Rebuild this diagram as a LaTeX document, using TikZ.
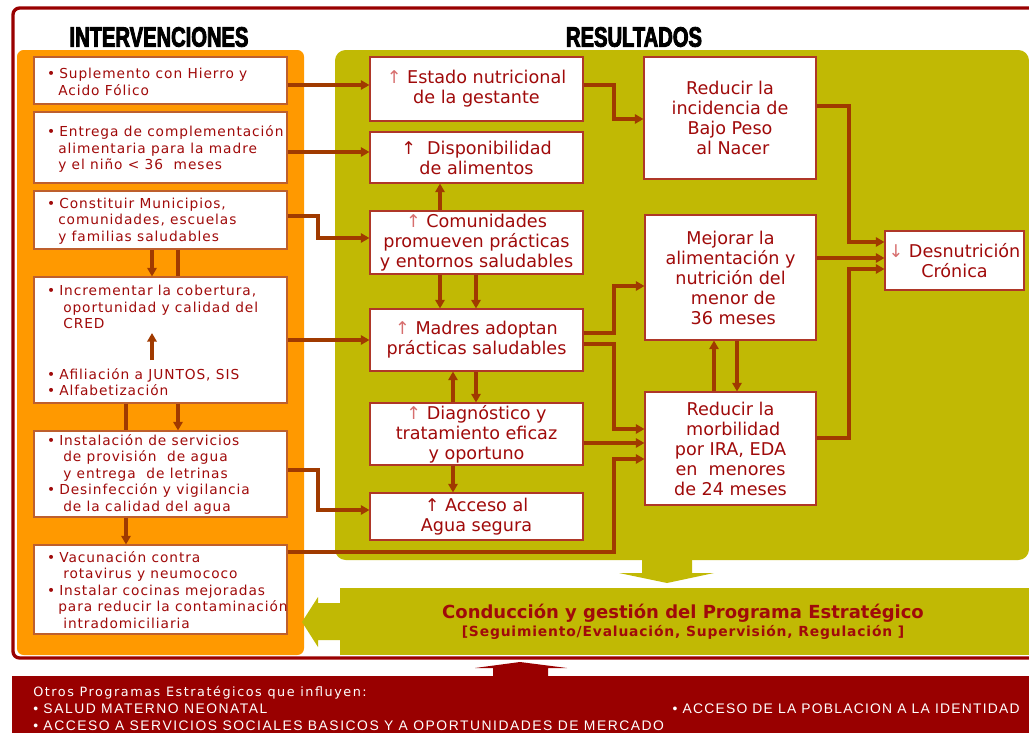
\documentclass[tikz,border=0pt]{standalone}
\usepackage{fontspec}
\setmainfont{DejaVu Sans}
\newfontfamily\titlef[FakeStretch=0.72,FakeBold=3]{Liberation Sans}
\newfontfamily\intf[LetterSpace=6.8]{DejaVu Sans}
\newfontfamily\otf[LetterSpace=12]{DejaVu Sans}
\newfontfamily\resf{DejaVu Sans}
\newfontfamily\condf{DejaVu Sans}
\newfontfamily\condg[LetterSpace=6]{DejaVu Sans}
\newfontfamily\capf[LetterSpace=11]{Liberation Sans}
\newfontfamily\capg[LetterSpace=9]{Liberation Sans}
\usetikzlibrary{arrows.meta}
\definecolor{tred}{RGB}{160,10,10}
\definecolor{pinkar}{RGB}{215,110,110}
\definecolor{conncol}{RGB}{160,58,0}
\definecolor{orng}{RGB}{255,153,0}
\definecolor{olive}{RGB}{193,185,4}
\definecolor{framecol}{RGB}{153,0,0}
\definecolor{ibord}{RGB}{190,95,45}
\definecolor{rbord}{RGB}{175,55,40}
\newcommand\bx[7]{\node[#1,minimum width={(#5-#3)*0.75pt},minimum height={(#6-#4)*0.75pt}] (#2) at ({(#3+#5)/2},{(#4+#6)/2}) {#7};}
\newcommand\Bu{\makebox[11.25pt][l]{\hspace*{2.2pt}•}}
\newcommand\Ia{\hspace*{10.5pt}}
\newcommand\Ib{\hspace*{14.25pt}}
\newcommand\pa{{\color{pinkar}↑}}
\begin{document}
\begin{tikzpicture}[x=0.75pt,y=-0.75pt,
  ibox/.style={draw=ibord,fill=white,line width=0.8pt,inner sep=0pt},
  rbox/.style={draw=rbord,fill=white,line width=0.8pt,inner sep=0pt,align=center,text=tred,
    font=\resf\fontsize{13.2pt}{15pt}\selectfont},
  itext/.style={anchor=west,align=left,inner sep=0pt,text=tred,
    font=\intf\fontsize{10.3pt}{12.4pt}\selectfont},
  conn/.style={draw=conncol,line width=2.3pt,-{Triangle[length=6.5pt,width=7pt]}},
  cline/.style={draw=conncol,line width=2.3pt},
  ttl/.style={inner sep=0pt,font=\titlef\bfseries\fontsize{21pt}{21pt}\selectfont,text=black},
  band/.style={inner sep=0pt,text=white,font=\capf\fontsize{10.4pt}{10.4pt}\selectfont}]
\useasboundingbox (0,0) rectangle (1029,733);
\clip (0,0) rectangle (1029,733);
% frame and panels
\draw[framecol,line width=2.5pt,rounded corners=5pt] (13,8) rectangle (1060,658);
\fill[orng,rounded corners=5pt] (17,50) rectangle (304,655);
\fill[olive,rounded corners=8pt] (335,50) rectangle (1029,560);
\fill[olive] (340,588) rectangle (1029,655);
\fill[framecol] (12,676) rectangle (1029,733);
% block arrows
\fill[olive] (642,559) -- (642,573) -- (619,573) -- (667,583) -- (714,573) -- (692,573) -- (692,559) -- cycle;
\fill[olive] (341,603) -- (318,603) -- (318,597) -- (302,622) -- (318,647) -- (318,640) -- (341,640) -- cycle;
\fill[framecol] (493,677) -- (493,668) -- (475,668) -- (520,662) -- (567,668) -- (548,668) -- (548,677) -- cycle;
% titles
\node[ttl] (tI) at (159,37) {INTERVENCIONES};
\node[ttl] (tR) at (634,37) {RESULTADOS};
% intervention boxes
\bx{ibox}{I1}{34}{57}{287}{104}{}
\bx{ibox}{I2}{34}{112}{287}{183}{}
\bx{ibox}{I3}{34}{191}{287}{249}{}
\bx{ibox}{I4}{34}{277}{287}{403}{}
\bx{ibox}{I5}{34}{431}{287}{517}{}
\bx{ibox}{I6}{34}{545}{287}{634}{}
\node[itext] (t1) at (44,82) {\Bu Suplemento con Hierro y\\\Ia Acido Fólico};
\node[itext] (t2) at (44,149) {\Bu Entrega de complementación\\\Ia alimentaria para la madre\\\Ia y el niño < 36\ \ meses};
\node[itext] (t3) at (44,221) {\Bu Constituir Municipios,\\\Ia comunidades, escuelas\\\Ia y familias saludables};
\node[itext] (t4a) at (44,307) {\Bu Incrementar la cobertura,\\\Ib oportunidad y calidad del\\\Ib CRED};
\node[itext] (t4b) at (44,382) {\Bu Afiliación a JUNTOS, SIS\\\Bu Alfabetización};
\node[itext] (t5) at (44,474) {\Bu Instalación de servicios\\\Ib de provisión\ \ de agua\\\Ib y entrega\ \ de letrinas\\\Bu Desinfección y vigilancia\\\Ib de la calidad del agua};
\node[itext] (t6) at (44,590) {\Bu Vacunación contra\\\Ib rotavirus y neumococo\\\Bu Instalar cocinas mejoradas\\\Ia para reducir la contaminación\\\Ib intradomiciliaria};
% result boxes
\bx{rbox}{R1}{370}{57}{583}{121}{\pa\ Estado nutricional\\de la gestante}
\bx{rbox}{R2}{370}{132}{583}{183}{↑\ \ Disponibilidad\\de alimentos}
\bx{rbox}{R3}{370}{211}{583}{274}{\pa\ Comunidades\\promueven prácticas\\y entornos saludables}
\bx{rbox}{R4}{370}{309}{583}{371}{\pa\ Madres adoptan\\prácticas saludables}
\bx{rbox}{R5}{370}{403}{583}{465}{\pa\ Diagnóstico y\\tratamiento eficaz\\y oportuno}
\bx{rbox}{R6}{370}{493}{583}{540}{↑ Acceso al\\Agua segura}
\bx{rbox}{O1}{644}{57}{816}{179}{Reducir la\\incidencia de\\Bajo Peso\\\ al Nacer}
\bx{rbox}{O2}{645}{215}{816}{340}{Mejorar la\\alimentación y\\nutrición del\\\ menor de\\\ 36 meses}
\bx{rbox}{O3}{645}{392}{816}{505}{Reducir la\\\ morbilidad\\por IRA, EDA\\en\ \ menores\ \\de 24 meses}
\bx{rbox}{F}{885}{231}{1024}{290}{{\color{pinkar}↓} Desnutrición\\Crónica}
% Conduccion box text
\node[inner sep=0pt,text=tred,font=\condf\bfseries\fontsize{13.5pt}{13.5pt}\selectfont] (c1) at (683,613) {Conducción y gestión del Programa Estratégico};
\node[inner sep=0pt,text=tred,font=\condg\bfseries\fontsize{10.4pt}{10.4pt}\selectfont] (c2) at (683,632) {[Seguimiento/Evaluación, Supervisión, Regulación ]};
% helper coordinates
\foreach \n/\yy in {85/85,152/152,216/216,238/238,340/340,470/470,510/510,552/552,459/459,119/119,333/333,286/286,344/344,429/429,443/443,106/106,258/258,242/242,269/269,438/438}
  \coordinate (L\n) at (0,\yy);
\foreach \n in {126,152,178,440,453,476,714,737}
  \coordinate (X\n) at (\n,0);
\coordinate (b1) at (318,238);
\coordinate (b2) at (318,510);
\coordinate (b3) at (614,459);
\coordinate (b4) at (614,119);
\coordinate (b5) at (614,286);
\coordinate (b6) at (614,429);
\coordinate (b7) at (849,242);
\coordinate (b8) at (849,269);
\coordinate (ia) at (152,360);
\coordinate (ib) at (152,333);
% connectors interventions -> results
\draw[conn] (I1.east |- L85) -- (R1.west |- L85);
\draw[conn] (I2.east |- L152) -- (R2.west |- L152);
\draw[conn] (I3.east |- L216) -| (b1) -- (R3.west |- L238);
\draw[conn] (I4.east |- L340) -- (R4.west |- L340);
\draw[conn] (I5.east |- L470) -| (b2) -- (R6.west |- L510);
\draw[conn] (I6.east |- L552) -| (b3) -- (O3.west |- L459);
% between interventions
\draw[conn] (I3.south -| X152) -- (I4.north -| X152);
\draw[cline] (I3.south -| X178) -- (I4.north -| X178);
\draw[cline] (I4.south -| X126) -- (I5.north -| X126);
\draw[conn] (I4.south -| X178) -- (I5.north -| X178);
\draw[conn] (I5.south -| X126) -- (I6.north -| X126);
\draw[conn] (ia) -- (ib);
% between results
\draw[conn] (R1.east |- L85) -| (b4) -- (O1.west |- L119);
\draw[conn] (R3.north -| X440) -- (R2.south -| X440);
\draw[conn] (R3.south -| X440) -- (R4.north -| X440);
\draw[conn] (R3.south -| X476) -- (R4.north -| X476);
\draw[conn] (R5.north -| X453) -- (R4.south -| X453);
\draw[conn] (R4.south -| X476) -- (R5.north -| X476);
\draw[conn] (R5.south -| X453) -- (R6.north -| X453);
\draw[conn] (R4.east |- L333) -| (b5) -- (O2.west |- L286);
\draw[conn] (R4.east |- L344) -| (b6) -- (O3.west |- L429);
\draw[conn] (R5.east |- L443) -- (O3.west |- L443);
\draw[conn] (O3.north -| X714) -- (O2.south -| X714);
\draw[conn] (O2.south -| X737) -- (O3.north -| X737);
\draw[conn] (O1.east |- L106) -| (b7) -- (F.west |- L242);
\draw[conn] (O2.east |- L258) -- (F.west |- L258);
\draw[conn] (O3.east |- L438) -| (b8) -- (F.west |- L269);
% bottom band text
\node[anchor=base west,inner sep=0pt,text=white,font=\otf\fontsize{9.6pt}{9.6pt}\selectfont] (o1) at (33,696) {Otros Programas Estratégicos que influyen:};
\node[band,anchor=base west] (o2) at (33,713) {• SALUD MATERNO NEONATAL};
\node[band,anchor=base west] (o3) at (33,730) {• ACCESO A SERVICIOS SOCIALES BASICOS Y A OPORTUNIDADES DE MERCADO};
\node[band,anchor=base east,font=\capg\fontsize{10.4pt}{10.4pt}\selectfont] (o4) at (1020,713) {• ACCESO DE LA POBLACION A LA IDENTIDAD};
\end{tikzpicture}
\end{document}
